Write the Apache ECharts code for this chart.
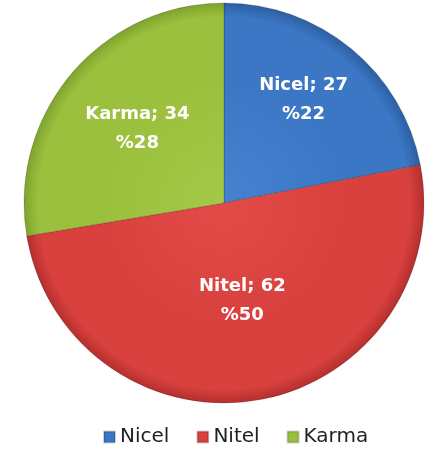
<!DOCTYPE html>
<html>
<head>
<meta charset="utf-8">
<script src="https://cdn.jsdelivr.net/npm/echarts@6/dist/echarts.min.js"></script>
<style>
html,body{margin:0;padding:0;background:#fff;}
#chart{width:427px;height:454px;}
</style>
</head>
<body>
<div id="chart"></div>
<script>
const categories = ['Nicel', 'Nitel', 'Karma'];
const values = [27, 62, 34];
const sliceColors = [
  ['#4682d0', '#3b77c4', '#2d5fa3'],
  ['#e24b48', '#d8413e', '#b52f2e'],
  ['#a4c948', '#9bc03d', '#7fa42e']
];
const labelOffsets = [[14, -24], [0, -4], [-8, -8]];

const CX = 224, CY = 203, R = 200;
const chart = echarts.init(document.getElementById('chart'), null, {renderer: 'canvas'});
const data = categories.map((name, i) => ({
  name: name,
  value: values[i],
  itemStyle: {
    color: new echarts.graphic.RadialGradient(CX, CY, R, [
      {offset: 0, color: sliceColors[i][0]},
      {offset: 0.6, color: sliceColors[i][1]},
      {offset: 0.93, color: sliceColors[i][1]},
      {offset: 1, color: sliceColors[i][2]}
    ], true)
  },
  label: {offset: labelOffsets[i]}
}));

chart.setOption({
  animation: false,
  legend: {
    top: 427,
    left: 103,
    icon: 'rect',
    itemWidth: 11,
    itemHeight: 11,
    itemGap: 27,
    padding: 0,
    data: categories.map((n, i) => ({name: n, itemStyle: {color: sliceColors[i][1]}})),
    textStyle: {fontFamily: 'DejaVu Sans', fontSize: 20, color: '#222'}
  },
  series: [{
    type: 'pie',
    center: [CX, CY],
    radius: R,
    startAngle: 90,
    clockwise: true,
    percentPrecision: 0,
    label: {
      show: true,
      position: 'inside',
      formatter: '{b}; {c}\n%{d}',
      color: '#fff',
      fontFamily: 'DejaVu Sans',
      fontWeight: 'bold',
      fontSize: 18,
      lineHeight: 29,
      align: 'center'
    },
    labelLine: {show: false},
    itemStyle: {borderColor: 'rgba(0,0,0,0.18)', borderWidth: 1},
    emphasis: {disabled: true},
    data: data
  }]
});
</script>
</body>
</html>
